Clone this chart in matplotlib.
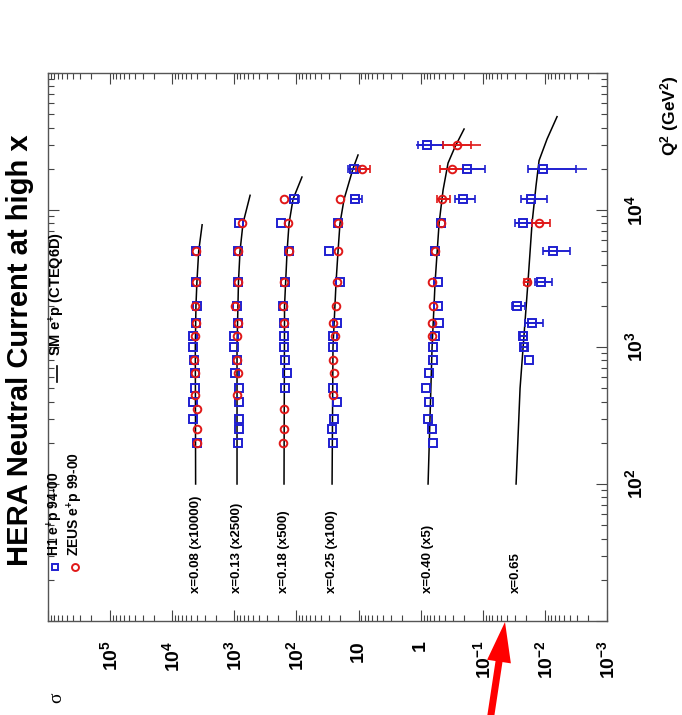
import numpy as np
import matplotlib
matplotlib.use('Agg')
import matplotlib.pyplot as plt
from matplotlib.ticker import LogLocator, NullFormatter
from matplotlib.patches import FancyArrow
from matplotlib.transforms import IdentityTransform

plt.rcParams['font.family'] = ['Liberation Sans', 'DejaVu Sans']
plt.rcParams['font.weight'] = 'bold'
plt.rcParams['mathtext.fontset'] = 'custom'
plt.rcParams['mathtext.rm'] = 'Liberation Sans:bold'
plt.rcParams['mathtext.it'] = 'Liberation Sans:bold'
plt.rcParams['mathtext.bf'] = 'Liberation Sans:bold'
plt.rcParams['mathtext.default'] = 'rm'

# x bins: label and the factor the reduced cross section is multiplied by
X_LABELS = ['x=0.08 (x10000)', 'x=0.13 (x2500)', 'x=0.18 (x500)',
            'x=0.25 (x100)', 'x=0.40 (x5)', 'x=0.65']
SCALES = [10000, 2500, 500, 100, 5, 1]

# H1 e+p 94-00, reduced cross section per x bin
H1_Q2 = [
    [200, 300, 400, 500, 650, 800, 1000, 1200, 1500, 2000, 3000, 5000],
    [200, 250, 300, 400, 500, 650, 800, 1000, 1200, 1500, 2000, 3000, 5000, 8000],
    [500, 650, 800, 1000, 1200, 1500, 2000, 3000, 5000, 8000, 12000],
    [200, 250, 300, 400, 500, 1000, 1200, 1500, 3000, 5000, 8000, 12000, 20000],
    [200, 250, 300, 400, 500, 650, 800, 1000, 1200, 1500, 2000, 3000, 5000, 8000,
     12000, 20000, 30000],
    [800, 1000, 1200, 1500, 2000, 3000, 5000, 8000, 12000, 20000],
]
H1_SIG = [
    [0.399, 0.462, 0.462, 0.430, 0.430, 0.446, 0.462, 0.462, 0.414, 0.399, 0.414, 0.414],
    [0.348, 0.336, 0.336, 0.336, 0.336, 0.390, 0.362, 0.404, 0.404, 0.348, 0.362, 0.348,
     0.348, 0.336],
    [0.305, 0.283, 0.305, 0.317, 0.317, 0.317, 0.329, 0.305, 0.263, 0.354, 0.219],
    [0.258, 0.267, 0.248, 0.222, 0.258, 0.258, 0.258, 0.222, 0.199, 0.299, 0.214, 0.114,
     0.118],
    [0.126, 0.131, 0.152, 0.147, 0.164, 0.147, 0.126, 0.126, 0.117, 0.101, 0.105, 0.105,
     0.117, 0.0938, 0.0415, 0.0358, 0.158],
    [0.0180, 0.0216, 0.0224, 0.0161, 0.0281, 0.0115, 0.00738, 0.0224, 0.0167, 0.0107],
]

# ZEUS e+p 99-00
ZEUS_Q2 = [
    [200, 250, 350, 450, 650, 800, 1200, 1500, 2000, 3000, 5000],
    [450, 650, 800, 1200, 1500, 2000, 3000, 5000, 8000],
    [200, 250, 350, 1500, 2000, 3000, 5000, 8000, 12000],
    [450, 650, 800, 1200, 1500, 2000, 3000, 5000, 8000, 12000, 20000],
    [1200, 1500, 2000, 3000, 5000, 8000, 12000, 20000, 30000],
    [3000, 8000],
]
ZEUS_SIG = [
    [0.399, 0.399, 0.399, 0.430, 0.430, 0.446, 0.430, 0.414, 0.430, 0.414, 0.414],
    [0.362, 0.348, 0.362, 0.362, 0.348, 0.390, 0.348, 0.348, 0.301],
    [0.329, 0.317, 0.317, 0.317, 0.329, 0.317, 0.263, 0.273, 0.317],
    [0.258, 0.248, 0.258, 0.239, 0.258, 0.230, 0.222, 0.214, 0.214, 0.199, 0.0879],
    [0.131, 0.131, 0.126, 0.131, 0.117, 0.0938, 0.0904, 0.0624, 0.0519],
    [0.0194, 0.0124],
]

# visible error bars: total range and statistical range (reduced cross section)
ERR_EXP = ['H1', 'H1', 'H1', 'ZEUS', 'ZEUS', 'ZEUS',
           'H1', 'H1', 'H1', 'H1', 'H1', 'H1', 'H1', 'H1', 'H1',
           'ZEUS', 'ZEUS', 'H1', 'H1', 'ZEUS', 'H1']
ERR_BIN = [4, 4, 4, 4, 4, 4, 5, 5, 5, 5, 5, 5, 5, 5, 5, 5, 5, 3, 3, 3, 2]
ERR_Q2 = [30000, 20000, 12000, 30000, 20000, 12000,
          20000, 12000, 8000, 5000, 3000, 2000, 1500, 1200, 1000,
          8000, 3000, 20000, 12000, 20000, 12000]
ERR_LO = [0.0871, 0.0184, 0.0266, 0.0213, 0.0415, 0.0673,
          0.00209, 0.00922, 0.0161, 0.00393, 0.00766, 0.0208, 0.0107, 0.0194, 0.0194,
          0.00824, 0.0173, 0.0946, 0.0879, 0.0653, 0.183]
ERR_HI = [0.237, 0.0415, 0.0558, 0.0871, 0.0975, 0.109,
          0.0187, 0.0242, 0.0302, 0.0107, 0.0144, 0.0337, 0.0208, 0.0251, 0.0242,
          0.0161, 0.0216, 0.148, 0.132, 0.110, 0.254]
STAT_LO = [0.0871, 0.0184, 0.0266, 0.0308, 0.0415, 0.0673,
           0.00315, 0.00922, 0.0161, 0.00393, 0.00766, 0.0208, 0.0107, 0.0194, 0.0194,
           0.00824, 0.0173, 0.0946, 0.0879, 0.0653, 0.183]
STAT_HI = [0.219, 0.0415, 0.0558, 0.0871, 0.0975, 0.109,
           0.0187, 0.0242, 0.0302, 0.0107, 0.0144, 0.0337, 0.0208, 0.0251, 0.0242,
           0.0161, 0.0216, 0.148, 0.132, 0.110, 0.254]

# SM e+p (CTEQ6D) prediction
SM_Q2 = [
    [100, 1000, 2000, 3000, 5000, 7800],
    [100, 1000, 3000, 5000, 8000, 12800],
    [100, 2000, 5000, 8000, 12000, 17400],
    [100, 1000, 3000, 5000, 8000, 12000, 20000, 25200],
    [100, 1000, 3000, 8000, 14000, 22000, 29000, 39000],
    [100, 500, 1000, 3000, 8000, 15000, 23000, 33000, 48000],
]
SM_SIG = [
    [0.42, 0.425, 0.415, 0.40, 0.375, 0.33],
    [0.362, 0.362, 0.343, 0.324, 0.290, 0.223],
    [0.317, 0.311, 0.283, 0.263, 0.227, 0.163],
    [0.267, 0.258, 0.230, 0.214, 0.199, 0.171, 0.123, 0.102],
    [0.152, 0.131, 0.117, 0.101, 0.0871, 0.0725, 0.0558, 0.0400],
    [0.0291, 0.0251, 0.0224, 0.0187, 0.0161, 0.0139, 0.0124, 0.00922, 0.00637],
]

SIGMA_TICKS = [1e5, 1e4, 1e3, 1e2, 10, 1, 0.1, 0.01, 0.001]
SIGMA_LABELS = ['$10^{5}$', '$10^{4}$', '$10^{3}$', '$10^{2}$', '10', '1',
                '$10^{-1}$', '$10^{-2}$', '$10^{-3}$']
Q2_TICKS = [100, 1000, 10000]
Q2_LABELS = ['$10^{2}$', '$10^{3}$', '$10^{4}$']

BLUE = '#1f1fd0'
RED = '#e01818'
W, H = 682, 715

fig = plt.figure(figsize=(W / 100, H / 100), dpi=100)
ax = fig.add_axes([48 / W, 1 - 621 / H, (607 - 48) / W, (621 - 73) / H])

# the page is turned: sigma runs right to left along the bottom, Q2 upwards
ax.set_xscale('log')
ax.set_yscale('log')
ax.set_xlim(1e6, 1e-3)
ax.set_ylim(10, 1e5)

for b in range(len(SCALES)):
    s = SCALES[b]
    ax.plot(np.array(SM_SIG[b]) * s, SM_Q2[b], color='black', lw=1.1, zorder=2)
    ax.text(SM_SIG[b][0] * s, 16, X_LABELS[b], rotation=90, ha='center',
            va='bottom', fontsize=9.5, fontweight='bold')

for i in range(len(ERR_BIN)):
    b = ERR_BIN[i]
    s = SCALES[b]
    if ERR_EXP[i] == 'H1':
        val = H1_SIG[b][H1_Q2[b].index(ERR_Q2[i])]
        col = BLUE
    else:
        val = ZEUS_SIG[b][ZEUS_Q2[b].index(ERR_Q2[i])]
        col = RED
    ax.errorbar(val * s, ERR_Q2[i], xerr=[[(val - ERR_LO[i]) * s], [(ERR_HI[i] - val) * s]],
                fmt='none', ecolor=col, elinewidth=1.2, capsize=0, zorder=3)
    ax.errorbar(val * s, ERR_Q2[i], xerr=[[(val - STAT_LO[i]) * s], [(STAT_HI[i] - val) * s]],
                fmt='none', ecolor=col, elinewidth=1.2, capsize=3, capthick=1.2, zorder=3)

for b in range(len(SCALES)):
    s = SCALES[b]
    ax.plot(np.array(H1_SIG[b]) * s, H1_Q2[b], ls='none', marker='s', ms=5.5,
            mfc='none', mec=BLUE, mew=1.4, zorder=4)
    ax.plot(np.array(ZEUS_SIG[b]) * s, ZEUS_Q2[b], ls='none', marker='o', ms=5.5,
            mfc='none', mec=RED, mew=1.4, zorder=5)

# ticks on all four sides, pointing in
ax.xaxis.set_major_locator(LogLocator(base=10, numticks=20))
ax.xaxis.set_minor_locator(LogLocator(base=10, subs=np.arange(2, 10), numticks=100))
ax.yaxis.set_major_locator(LogLocator(base=10, numticks=20))
ax.yaxis.set_minor_locator(LogLocator(base=10, subs=np.arange(2, 10), numticks=100))
ax.xaxis.set_minor_formatter(NullFormatter())
ax.yaxis.set_minor_formatter(NullFormatter())
ax.tick_params(which='both', direction='in', top=True, right=True, left=True, bottom=True,
               labelbottom=False, labelleft=False, color='#444444')
ax.tick_params(which='major', length=8, width=0.8)
ax.tick_params(which='minor', length=4, width=0.8)
for sp in ax.spines.values():
    sp.set_color('#555555')
    sp.set_linewidth(1.0)

# tick labels, turned with the page
for v, lab in zip(SIGMA_TICKS, SIGMA_LABELS):
    ax.text(v, -0.035, lab, rotation=90, ha='center', va='top', fontsize=14,
            transform=ax.get_xaxis_transform())
for v, lab in zip(Q2_TICKS, Q2_LABELS):
    ax.text(1.03, v, lab, rotation=90, ha='left', va='center', fontsize=14,
            transform=ax.get_yaxis_transform())

fig.text(670 / W, 1 - 75 / H, 'Q$^{2}$ (GeV$^{2}$)', rotation=90, ha='center', va='top',
         fontsize=12.5)
fig.text(20 / W, 1 - 350 / H, 'HERA Neutral Current at high x', rotation=90,
         ha='center', va='center', fontsize=21)
fig.text(57 / W, 1 - 698 / H, '\u03c3', rotation=90, ha='center', va='center',
         fontsize=14, family='Liberation Serif', fontweight='normal')

# legend
ax.plot([55 / W], [1 - 567 / H], marker='s', ms=5, mfc='none', mec=BLUE, mew=1.4,
        transform=fig.transFigure, clip_on=False)
ax.plot([75 / W], [1 - 567 / H], marker='o', ms=5, mfc='none', mec=RED, mew=1.4,
        transform=fig.transFigure, clip_on=False)
ax.plot([57 / W, 57 / W], [1 - 382 / H, 1 - 366 / H], color='black', lw=1.2,
        transform=fig.transFigure, clip_on=False)
fig.text(55 / W, 1 - 556 / H, 'H1 e$^{+}$p 94-00', rotation=90, ha='center',
         va='bottom', fontsize=10)
fig.text(75 / W, 1 - 556 / H, 'ZEUS e$^{+}$p 99-00', rotation=90, ha='center',
         va='bottom', fontsize=10)
fig.text(57 / W, 1 - 356 / H, 'SM e$^{+}$p (CTEQ6D)', rotation=90, ha='center',
         va='bottom', fontsize=10.5)

# red pointer at the bottom
fig.add_artist(FancyArrow(490, -6, 15, 99, width=7, head_width=24, head_length=40,
                          length_includes_head=True, color='#ff0000', lw=0,
                          transform=IdentityTransform()))

fig.savefig('out.png', dpi=100)
